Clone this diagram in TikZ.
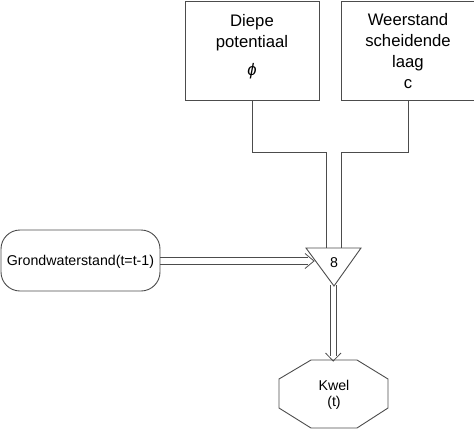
\documentclass[tikz,border=0pt]{standalone}
\usepackage{fontspec}
\setmainfont{Liberation Sans}
\begin{document}
\begin{tikzpicture}[x=1pt,y=-1pt,
  ln/.style={draw=black!70, line width=0.9pt},
  boxnode/.style={ln, rectangle, inner sep=0pt},
  bigtxt/.style={font=\fontsize{16.7}{21}\selectfont, align=center, inner sep=0pt},
  smalltxt/.style={font=\fontsize{14.2}{15.5}\selectfont, align=center, inner sep=0pt},
  thin/.style={draw=black!70, line width=0.8pt, line join=miter}
]
\useasboundingbox (0,0) rectangle (474,429);
\clip (0,0) rectangle (474,429);
% boxes
\node[boxnode, minimum width=134pt, minimum height=99pt] (b1) at (252,50.5) {};
\node[bigtxt] (b1t) at (252,47) {Diepe\\potentiaal\\[7pt]{\itshape ϕ}};
\node[boxnode, minimum width=135pt, minimum height=99pt] (b2) at (408.5,50.5) {};
\node[bigtxt] (b2t) at (408,51) {Weerstand\\scheidende\\laag\\c};
% rounded box
\node[boxnode, rounded corners=19pt, minimum width=159pt, minimum height=61pt] (g) at (80.5,260.5) {};
\node[smalltxt] (gt) at (80.5,262) {Grondwaterstand(t=t-1)};
% triangle
\coordinate (tl) at (306,248);
\coordinate (tr) at (361,248);
\coordinate (ta) at (334,286);
\draw[ln, line join=miter] (tl) -- (tr) -- (ta) -- cycle;
\node[smalltxt] (t8) at (334,263) {8};
\coordinate (tin1) at (326,248);
\coordinate (tin2) at (341,248);
% octagon
\coordinate (k1) at (311,360);
\coordinate (k2) at (357,360);
\coordinate (k3) at (388,379);
\coordinate (k4) at (388,408);
\coordinate (k5) at (357,428);
\coordinate (k6) at (311,428);
\coordinate (k7) at (279,408);
\coordinate (k8) at (279,379);
\draw[ln] (k1) -- (k2) -- (k3) -- (k4) -- (k5) -- (k6) -- (k7) -- (k8) -- cycle;
\node[smalltxt] (kt) at (334,395) {Kwel\\(t)};
% connectors
\draw[ln] (b1.south) -- ++(0,52) -| (tin1);
\draw[ln] (b2.south) -- ++(0,52) -| (tin2);
% horizontal double arrow
\coordinate (ha1) at (g.east |- 0,257.5);
\coordinate (ha2) at (g.east |- 0,264.5);
\coordinate (hb1) at (308,257.5);
\coordinate (hb2) at (308,264.5);
\coordinate (htip) at (314,261);
\draw[thin] (ha1) -- (hb1);
\draw[thin] (ha2) -- (hb2);
\draw[thin] (305,253.5) -- (htip) -- (305,268.5);
% vertical double arrow
\coordinate (va1) at (330,285);
\coordinate (va2) at (336.5,285);
\coordinate (vb1) at (330,356);
\coordinate (vb2) at (336.5,356);
\coordinate (vtip) at (333.2,361);
\draw[thin] (va1) -- (vb1);
\draw[thin] (va2) -- (vb2);
\draw[thin] (325.5,353) -- (vtip) -- (341,353);
\end{tikzpicture}
\end{document}
